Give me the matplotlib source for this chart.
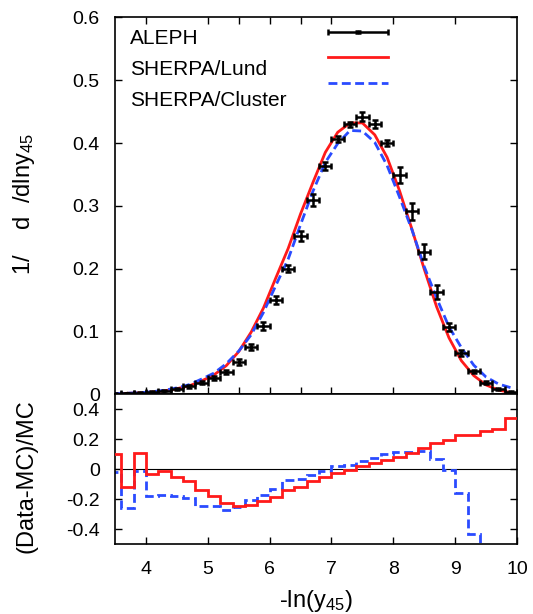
import numpy as np
import matplotlib
matplotlib.use("Agg")
import matplotlib.pyplot as plt
from matplotlib.legend_handler import HandlerErrorbar

plt.rcParams['font.family'] = ['Liberation Sans', 'DejaVu Sans']
plt.rcParams['mathtext.fontset'] = 'custom'
plt.rcParams['mathtext.rm'] = 'Liberation Sans'
plt.rcParams['mathtext.it'] = 'Liberation Sans:italic'

# ---- data ----
bin_centers = [3.5, 3.7, 3.9, 4.1, 4.3, 4.5, 4.7, 4.9, 5.1, 5.3, 5.5, 5.7, 5.9,
               6.1, 6.3, 6.5, 6.7, 6.9, 7.1, 7.3, 7.5, 7.7, 7.9, 8.1, 8.3, 8.5,
               8.7, 8.9, 9.1, 9.3, 9.5, 9.7, 9.9]
bin_edges = [3.4, 3.6, 3.8, 4.0, 4.2, 4.4, 4.6, 4.8, 5.0, 5.2, 5.4, 5.6, 5.8, 6.0,
             6.2, 6.4, 6.6, 6.8, 7.0, 7.2, 7.4, 7.6, 7.8, 8.0, 8.2, 8.4, 8.6,
             8.8, 9.0, 9.2, 9.4, 9.6, 9.8, 10.0]
aleph = [0.0005, 0.001, 0.002, 0.003, 0.005, 0.008, 0.012, 0.018, 0.025, 0.035,
         0.051, 0.075, 0.108, 0.150, 0.200, 0.252, 0.309, 0.363, 0.406, 0.430,
         0.442, 0.430, 0.400, 0.349, 0.291, 0.227, 0.163, 0.107, 0.065, 0.036,
         0.018, 0.008, 0.003]
aleph_err = [0.001, 0.001, 0.001, 0.001, 0.001, 0.001, 0.002, 0.002, 0.003, 0.003,
             0.004, 0.005, 0.006, 0.006, 0.006, 0.008, 0.010, 0.006, 0.005, 0.004,
             0.007, 0.006, 0.004, 0.012, 0.013, 0.012, 0.011, 0.006, 0.005, 0.003,
             0.002, 0.001, 0.001]
aleph_xerr = [0.1] * len(bin_centers)
lund_mc = [0.00045, 0.0011, 0.0018, 0.0031, 0.0051, 0.0085, 0.0130, 0.0209, 0.0304,
           0.0453, 0.0675, 0.0984, 0.137, 0.185, 0.232, 0.287, 0.337, 0.385, 0.417,
           0.432, 0.432, 0.413, 0.377, 0.324, 0.263, 0.199, 0.139, 0.0895, 0.0531,
           0.0294, 0.0144, 0.0063, 0.0022]
cluster_mc = [0.0005, 0.00135, 0.002, 0.0036, 0.006, 0.0098, 0.0149, 0.0238, 0.0333,
              0.0483, 0.0683, 0.0942, 0.130, 0.173, 0.215, 0.270, 0.323, 0.369, 0.399,
              0.420, 0.419, 0.401, 0.364, 0.314, 0.262, 0.203, 0.153, 0.107, 0.074,
              0.046, 0.027, 0.016, 0.010]
lund_ratio = [0.10, -0.12, 0.11, -0.03, -0.016, -0.056, -0.078, -0.138, -0.178, -0.227,
              -0.244, -0.238, -0.211, -0.189, -0.138, -0.122, -0.082, -0.056, -0.027,
              -0.004, 0.022, 0.040, 0.062, 0.078, 0.107, 0.140, 0.173, 0.196, 0.224,
              0.224, 0.251, 0.269, 0.340]
cluster_ratio = [-0.022, -0.26, -0.011, -0.178, -0.171, -0.182, -0.193, -0.244, -0.249,
                 -0.276, -0.253, -0.204, -0.171, -0.131, -0.071, -0.067, -0.042, -0.016,
                 0.018, 0.024, 0.056, 0.071, 0.100, 0.111, 0.111, 0.118, 0.067, -0.004,
                 -0.160, -0.430, -0.700, -0.800, -0.900]

series_labels = ['ALEPH', 'SHERPA/Lund', 'SHERPA/Cluster']
top_xticks = [4, 5, 5.5, 6, 6.5, 7, 8, 9]
top_yticks = [0, 0.1, 0.2, 0.3, 0.4, 0.5, 0.6]
top_yticklabels = ['0', '0.1', '0.2', '0.3', '0.4', '0.5', '0.6']
bot_xticks = [4, 5, 6, 7, 8, 9, 10]
bot_yticks = [-0.4, -0.2, 0, 0.2, 0.4]
bot_yticklabels = ['-0.4', '-0.2', '0', '0.2', '0.4']

RED = '#ff1a1a'
BLUE = '#2a4bff'
DASH = (0, (3.2, 1.6))
FS = 14      # tick labels
LFS = 17     # axis labels
LEGFS = 15   # legend

fig = plt.figure(figsize=(5.33, 6.14), dpi=100)
ax1 = fig.add_axes([0.2158, 0.3583, 0.7542, 0.6132])
ax2 = fig.add_axes([0.2158, 0.114, 0.7542, 0.2443])

# top panel
eb = ax1.errorbar(bin_centers, aleph, yerr=aleph_err, xerr=aleph_xerr, fmt='o',
                  color='black', ms=1.5, elinewidth=1.8, capsize=2.5, capthick=1.8,
                  zorder=3)
l1, = ax1.plot(bin_centers, lund_mc, color=RED, lw=2.0, zorder=2)
l2, = ax1.plot(bin_centers, cluster_mc, color=BLUE, lw=2.0, ls=DASH, zorder=2)
ax1.set_xlim(3.5, 10)
ax1.set_ylim(0, 0.6)
ax1.set_xticks(top_xticks)
ax1.set_xticklabels([])
ax1.set_yticks(top_yticks)
ax1.set_yticklabels(top_yticklabels)
ax1.tick_params(direction='in', length=5, width=1.0, top=True, right=True,
                labelsize=FS)
ax1.tick_params(axis='y', pad=11)
ax1.set_ylabel(r'1/    d  /dlny$\mathregular{_{45}}$', fontsize=LFS)
ax1.yaxis.set_label_coords(-0.194, 0.505)

# legend: labels left-aligned as text, samples in a separate column
row_y = [0.9446, 0.8622, 0.7784]
for lab, yy in zip(series_labels, row_y):
    ax1.text(0.037, yy, lab, transform=ax1.transAxes, fontsize=LEGFS,
             ha='left', va='center')
ax1.legend(handles=[eb, l1, l2], labels=['', '', ''], loc='upper left',
           bbox_to_anchor=(0.530, 0.9875), borderaxespad=0, borderpad=0,
           frameon=False, fontsize=LEGFS, handlelength=2.88, handleheight=1.49,
           labelspacing=0, handletextpad=0,
           handler_map={type(eb): HandlerErrorbar(xerr_size=1.44, yerr_size=0.05)})

# ratio panel
ax2.stairs(lund_ratio, bin_edges, color=RED, lw=2.0, baseline=None, zorder=3)
ax2.stairs(cluster_ratio, bin_edges, color=BLUE, lw=2.0, ls=DASH,
           baseline=None, zorder=2)
ax2.axhline(0, color='black', lw=0.8, zorder=1)
ax2.set_xlim(3.5, 10)
ax2.set_ylim(-0.5, 0.5)
ax2.set_xticks(bot_xticks)
ax2.set_xticklabels([str(t) for t in bot_xticks])
ax2.set_yticks(bot_yticks)
ax2.set_yticklabels(bot_yticklabels)
ax2.tick_params(direction='in', length=5, width=1.0, right=True, top=False,
                labelsize=FS)
ax2.tick_params(axis='y', pad=11)
ax2.tick_params(axis='x', pad=12)
ax2.set_ylabel('(Data-MC)/MC', fontsize=LFS)
ax2.yaxis.set_label_coords(-0.194, 0.453)
ax2.set_xlabel(r'-ln(y$\mathregular{_{45}}$)', fontsize=LFS)
ax2.xaxis.set_label_coords(0.5, -0.29)

for a in (ax1, ax2):
    for s in a.spines.values():
        s.set_linewidth(1.2)

fig.savefig('out.png', dpi=100)
